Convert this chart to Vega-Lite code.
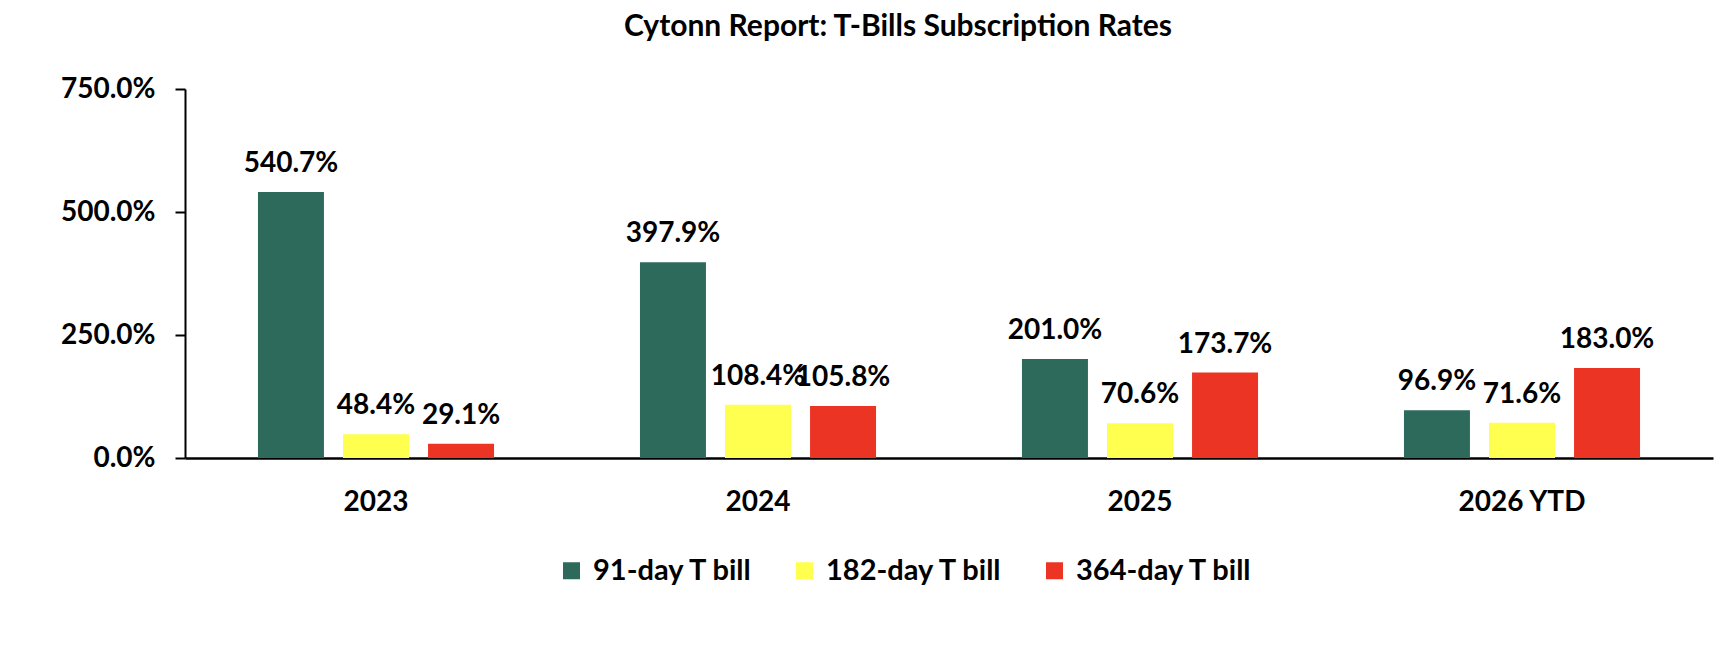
{
  "$schema": "https://vega.github.io/schema/vega-lite/v6.json",
  "width": 1528,
  "height": 369,
  "autosize": {"type": "none"},
  "padding": {"left": 185, "top": 89, "right": 23, "bottom": 196},
  "background": "white",
  "config": {"view": {"stroke": null}, "font": "Lato"},
  "title": {
    "text": "Cytonn Report: T-Bills Subscription Rates",
    "font": "Lato",
    "fontSize": 30,
    "fontWeight": "bold",
    "color": "#000000",
    "anchor": "start",
    "frame": "group",
    "dx": 439,
    "baseline": "alphabetic",
    "offset": 9
  },
  "data": {
    "values": [
      {"year": "2023", "tenor": "91-day T bill", "rate": 5.407},
      {"year": "2023", "tenor": "182-day T bill", "rate": 0.484},
      {"year": "2023", "tenor": "364-day T bill", "rate": 0.291},
      {"year": "2024", "tenor": "91-day T bill", "rate": 3.979},
      {"year": "2024", "tenor": "182-day T bill", "rate": 1.084},
      {"year": "2024", "tenor": "364-day T bill", "rate": 1.058},
      {"year": "2025", "tenor": "91-day T bill", "rate": 2.010},
      {"year": "2025", "tenor": "182-day T bill", "rate": 0.706},
      {"year": "2025", "tenor": "364-day T bill", "rate": 1.737},
      {"year": "2026 YTD", "tenor": "91-day T bill", "rate": 0.969},
      {"year": "2026 YTD", "tenor": "182-day T bill", "rate": 0.716},
      {"year": "2026 YTD", "tenor": "364-day T bill", "rate": 1.830}
    ]
  },
  "encoding": {
    "x": {
      "field": "year",
      "type": "nominal",
      "sort": ["2023", "2024", "2025", "2026 YTD"],
      "scale": {"paddingInner": 0.382, "paddingOuter": 0.191},
      "axis": {
        "title": null,
        "labelAngle": 0,
        "ticks": false,
        "domainColor": "#000000",
        "domainWidth": 2.5,
        "labelFont": "Lato",
        "labelFontSize": 28,
        "labelFontWeight": "bold",
        "labelColor": "#000000",
        "labelPadding": 30
      }
    },
    "xOffset": {
      "field": "tenor",
      "type": "nominal",
      "sort": ["91-day T bill", "182-day T bill", "364-day T bill"],
      "scale": {"paddingInner": 0.224, "paddingOuter": 0}
    },
    "y": {
      "field": "rate",
      "type": "quantitative",
      "scale": {"domain": [0, 7.5], "nice": false},
      "axis": {
        "title": null,
        "values": [0, 2.5, 5, 7.5],
        "format": ".1%",
        "grid": false,
        "domainColor": "#000000",
        "domainWidth": 2,
        "tickColor": "#000000",
        "tickWidth": 2,
        "tickSize": 10,
        "labelFont": "Lato",
        "labelFontSize": 28,
        "labelFontWeight": "bold",
        "labelColor": "#000000",
        "labelPadding": 20
      }
    }
  },
  "layer": [
    {
      "mark": {"type": "bar"},
      "encoding": {
        "color": {
          "field": "tenor",
          "type": "nominal",
          "sort": ["91-day T bill", "182-day T bill", "364-day T bill"],
          "scale": {
            "domain": ["91-day T bill", "182-day T bill", "364-day T bill"],
            "range": ["#2E6A5B", "#FFFF4F", "#EC3424"]
          },
          "legend": {
            "orient": "none",
            "legendX": 372,
            "legendY": 467,
            "direction": "horizontal",
            "title": null,
            "symbolType": "square",
            "symbolSize": 289,
            "symbolStrokeWidth": 0,
            "symbolOpacity": 1,
            "labelFont": "Lato",
            "labelFontSize": 29,
            "labelFontWeight": "bold",
            "labelColor": "#000000",
            "labelLimit": 500,
            "labelOffset": 7,
            "columnPadding": 36,
            "padding": 0
          }
        }
      }
    },
    {
      "mark": {
        "type": "text",
        "dy": -20,
        "baseline": "alphabetic",
        "align": "center",
        "font": "Lato",
        "fontSize": 28,
        "fontWeight": "bold",
        "color": "#000000"
      },
      "encoding": {
        "text": {"field": "rate", "type": "quantitative", "format": ".1%"}
      }
    }
  ]
}
